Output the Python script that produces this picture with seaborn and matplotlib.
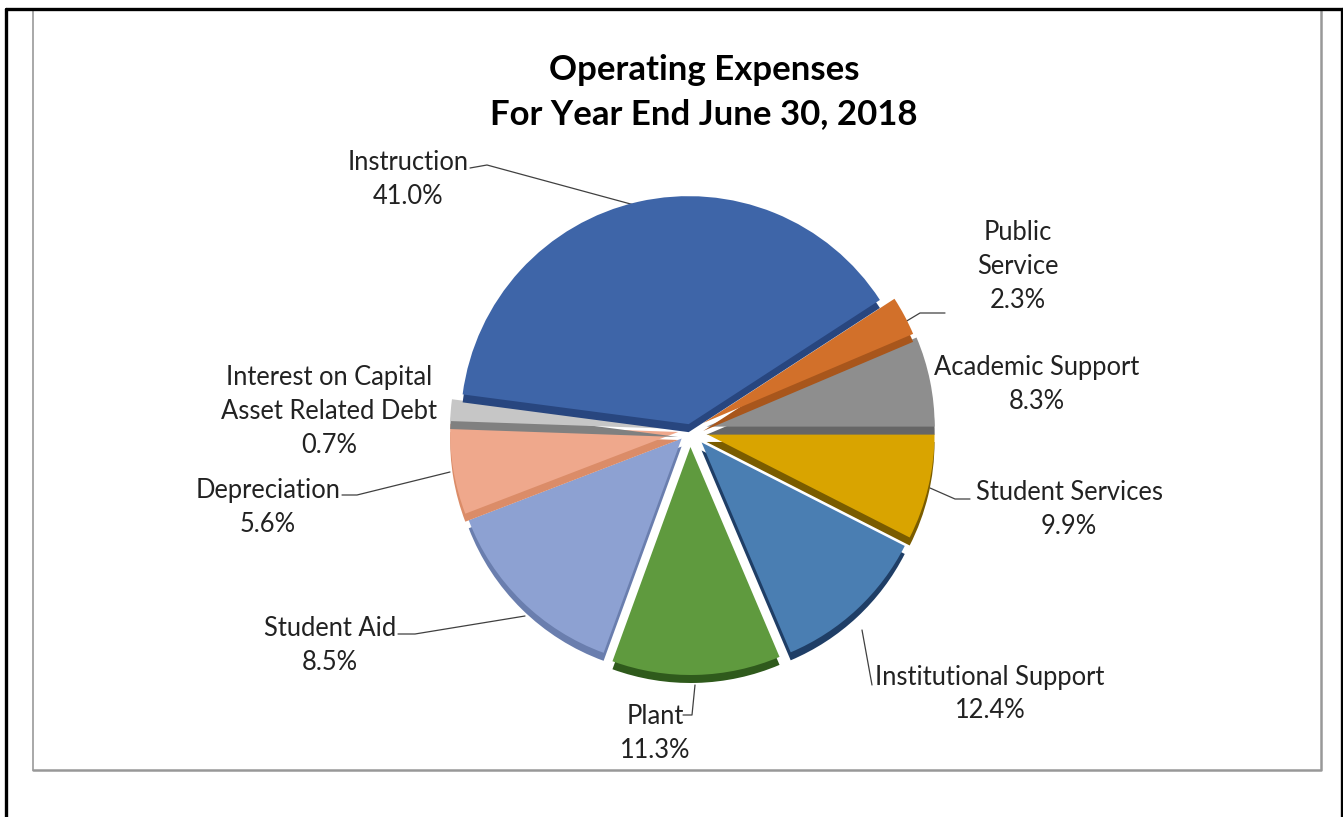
import matplotlib
matplotlib.use("Agg")
import matplotlib.pyplot as plt
import seaborn as sns

categories = ["Instruction", "Public\nService", "Academic Support", "Student Services",
              "Institutional Support", "Plant", "Student Aid", "Depreciation",
              "Interest on Capital\nAsset Related Debt"]
percent_labels = ["41.0%", "2.3%", "8.3%", "9.9%", "12.4%", "11.3%", "8.5%", "5.6%", "0.7%"]
# wedge sizes as drawn in the picture (degrees of arc)
drawn_sizes = [139.5, 10, 23, 27, 40, 43, 49, 23, 5.5]

top_colors = ["#3E65A8", "#D2702A", "#8E8E8E", "#D9A400", "#4A7EB2", "#5F9A3E", "#8DA1D2", "#EFA88C", "#C6C6C6"]
rim_colors = ["#28467F", "#A8561C", "#666666", "#7A5C00", "#1F3E66", "#2F5A1C", "#6A7EAE", "#DB8C68", "#808080"]
explode = [6, 15, 17, 17, 17, 17, 12, 12, 12]
stacking = [9, 8, 6, 4, 2, 1, 3, 5, 7]

label_pos = [(408, 179), (1018, 266), (1037, 384), (1069, 509), (990, 694), (655, 733),
             (330, 645), (268, 507), (329, 411)]
leaders = [([470, 487, 638], [168, 165, 206]), ([945, 920, 905], [313, 313, 322]),
           ([970, 955, 930], [499, 499, 488]), ([872, 862], [685, 630]),
           ([683, 692, 695], [715, 715, 685]), ([398, 415, 525], [634, 634, 616]),
           ([342, 357, 450], [495, 495, 472])]

sns.set_theme(style="white")
plt.rcParams["font.family"] = ["Lato", "DejaVu Sans"]

fig = plt.figure(figsize=(13.43, 8.17), dpi=100, facecolor="white")
ax = fig.add_axes([0, 0, 1, 1])

R = 228
cx, cy = 690, 430
flat = dict(linewidth=0)
rim, _ = ax.pie(drawn_sizes, colors=rim_colors, explode=explode, radius=R, center=(cx, cy + 8),
                startangle=-172.5, counterclock=True, wedgeprops=flat)
top, _ = ax.pie(drawn_sizes, colors=top_colors, explode=explode, radius=R, center=(cx, cy),
                startangle=-172.5, counterclock=True, wedgeprops=flat)
for r, t, z in zip(rim, top, stacking):
    r.set_zorder(z + 2)
    t.set_zorder(z + 2.5)

ax.set_xlim(0, 1343)
ax.set_ylim(817, 0)
ax.set_aspect("auto")
ax.set_axis_off()

# frames
ax.plot([33, 33], [10, 770], color="#A8A8A8", lw=1.4, zorder=1)
ax.plot([33, 1321, 1321], [770, 770, 10], color="#989898", lw=1.8, zorder=1)
ax.plot([6, 6], [817, 9], color="black", lw=2.4, zorder=1)
ax.plot([6, 1343], [9, 9], color="black", lw=2.4, zorder=1)
ax.plot([1342, 1342], [9, 817], color="black", lw=2.4, zorder=1)

for xs, ys in leaders:
    ax.plot(xs, ys, color="#404040", lw=0.9, zorder=1.5)

for name, pct, (x, y) in zip(categories, percent_labels, label_pos):
    ax.text(x, y, f"{name}\n{pct}", ha="center", va="center", fontsize=18.4,
            color="#222222", linespacing=1.45)

ax.text(704, 92, "Operating Expenses\nFor Year End June 30, 2018", ha="center", va="center",
        fontsize=25, fontweight="bold", color="black", linespacing=1.5)

fig.savefig("out.png", dpi=100)
